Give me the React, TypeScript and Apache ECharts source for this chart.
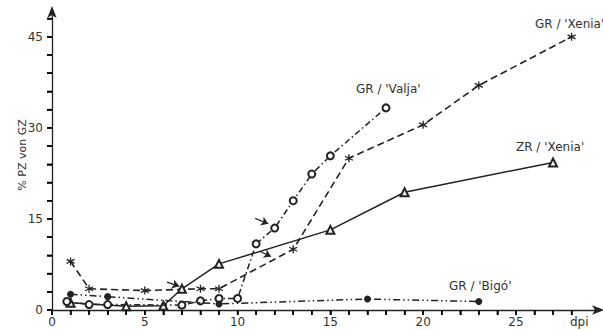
import React, { useEffect, useRef } from "react";
import * as echarts from "echarts";

// GR/'Xenia' (dashed, asterisks)
const grXenia: [number, number][] = [
  [1, 8], [2, 3.5], [5, 3.2], [8, 3.5], [9, 3.5], [13, 10], [16, 25], [20, 30.5], [23, 37], [28, 45],
];
// ZR/'Xenia' (solid, open triangles)
const zrXenia: [number, number][] = [
  [1, 1.2], [4, 0.6], [6, 0.7], [7, 3.5], [9, 7.6], [15, 13.2], [19, 19.4], [27, 24.3],
];
// GR/'Valja' (dash-dot, open circles)
const grValja: [number, number][] = [
  [0.8, 1.4], [2, 0.9], [3, 0.9], [7, 0.8], [8, 1.5], [9, 1.9], [10, 1.9], [11, 10.9], [12, 13.5],
  [13, 18], [14, 22.4], [15, 25.4], [18, 33.3],
];
// GR/'Bigó' (dash-dot-dot, filled circles)
const grBigo: [number, number][] = [
  [1, 2.6], [3, 2.2], [9, 1.0], [17, 1.8], [23, 1.4],
];

// tick positions and labels
const xTicks = [0, 1, 2, 3, 4, 5, 6, 7, 8, 9, 10, 11, 12, 13, 14, 15, 16, 17, 18, 19, 20, 21, 22, 23, 24, 25, 26, 27, 28];
const xLabels = [0, 5, 10, 15, 20, 25];
const yTicks = [0, 3, 6, 9, 12, 15, 18, 21, 24, 27, 30, 33, 36, 39, 42, 45, 48];
const yLabels = [0, 15, 30, 45];

// annotation arrows: [tailX, tailY, headX, headY] in data units
const arrows: [number, number, number, number][] = [
  [6.2, 4.6, 6.85, 3.9],
  [10.95, 15.1, 11.65, 14.2],
  [11.25, 9.6, 11.8, 8.8],
];

const INK = "#222";
const TXT = "#333";
const FONT = "DejaVu Sans";

export default function App() {
  const ref = useRef<HTMLDivElement>(null);
  useEffect(() => {
    if (!ref.current) return;
    const chart = echarts.init(ref.current, undefined, { renderer: "svg" });
    const asterisk = "path://M5,0L5,10M0.7,2.5L9.3,7.5M0.7,7.5L9.3,2.5";
    const arrowLine = () => ({
      show: true,
      lineStyle: { color: INK, width: 1.3 },
      symbol: ["none", "arrow"],
      symbolSize: [7, 12],
      symbolOffset: [0, 4],
    });
    const hidden = () => ({ show: false });
    chart.setOption({
      animation: false,
      grid: [
        { left: 52, right: 31.4, top: 18.6, bottom: 20 },
        { left: 52, right: 3, top: 10, bottom: 20 },
      ],
      xAxis: [
        {
          type: "value",
          gridIndex: 0,
          min: 0,
          max: 28,
          interval: 1,
          splitLine: hidden(),
          axisLine: hidden(),
          axisTick: { show: true, inside: false, length: 5, lineStyle: { color: "#000", width: 1.5 } },
          axisLabel: {
            margin: 6,
            color: TXT,
            fontSize: 12,
            fontFamily: FONT,
            formatter: (v: number) => (xLabels.indexOf(v) >= 0 ? String(v) : ""),
          },
        },
        {
          type: "value",
          gridIndex: 1,
          min: 0,
          max: 1,
          splitLine: hidden(),
          axisLine: arrowLine(),
          axisTick: hidden(),
          axisLabel: hidden(),
        },
      ],
      yAxis: [
        {
          type: "value",
          gridIndex: 0,
          min: 0,
          max: 48,
          interval: 3,
          splitLine: hidden(),
          axisLine: hidden(),
          axisTick: { show: true, inside: false, length: 5, lineStyle: { color: "#000", width: 1.5 } },
          axisLabel: {
            margin: 9,
            color: TXT,
            fontSize: 12,
            fontFamily: FONT,
            formatter: (v: number) => (yLabels.indexOf(v) >= 0 ? String(v) : ""),
          },
        },
        {
          type: "value",
          gridIndex: 1,
          min: 0,
          max: 1,
          splitLine: hidden(),
          axisLine: arrowLine(),
          axisTick: hidden(),
          axisLabel: hidden(),
        },
      ],
      series: [
        {
          type: "custom",
          name: "xTicks",
          silent: true,
          clip: false,
          data: xTicks.map((v) => [v, 0]),
          renderItem: (_p: any, api: any) => {
            const pt = api.coord([api.value(0), 0]);
            return { type: "line", shape: { x1: pt[0], y1: pt[1], x2: pt[0], y2: pt[1] + 5 }, style: { stroke: "#000", lineWidth: 1.5 } };
          },
          z: 10,
        },
        {
          type: "custom",
          name: "yTicks",
          silent: true,
          clip: false,
          data: yTicks.map((v) => [0, v]),
          renderItem: (_p: any, api: any) => {
            const pt = api.coord([0, api.value(1)]);
            return { type: "line", shape: { x1: pt[0] - 5, y1: pt[1], x2: pt[0], y2: pt[1] }, style: { stroke: "#000", lineWidth: 1.5 } };
          },
          z: 10,
        },
        {
          type: "line",
          name: "GR/'Xenia'",
          data: grXenia,
          symbol: asterisk,
          symbolSize: 8,
          lineStyle: { color: INK, width: 1.6, type: [7, 4] },
          itemStyle: { color: INK, borderColor: INK, borderWidth: 1.3 },
          z: 3,
        },
        {
          type: "line",
          name: "ZR/'Xenia'",
          data: zrXenia,
          symbol: "emptyTriangle",
          symbolSize: 8,
          lineStyle: { color: INK, width: 1.5, type: "solid" },
          itemStyle: { color: INK, borderColor: INK, borderWidth: 1 },
          z: 4,
          markLine: {
            silent: true,
            symbol: ["none", "arrow"],
            symbolSize: 7,
            label: { show: false },
            lineStyle: { color: INK, width: 1.2, type: "solid" },
            data: arrows.map(([x1, y1, x2, y2]) => [{ coord: [x1, y1] }, { coord: [x2, y2] }]),
          },
        },
        {
          type: "line",
          name: "GR/'Valja'",
          data: grValja,
          symbol: "emptyCircle",
          symbolSize: 7,
          lineStyle: { color: INK, width: 1.5, type: [6, 3, 1.5, 3] },
          itemStyle: { color: INK, borderColor: INK, borderWidth: 1 },
          z: 5,
        },
        {
          type: "line",
          name: "GR/'Bigó'",
          data: grBigo,
          symbol: "circle",
          symbolSize: 7,
          lineStyle: { color: INK, width: 1.5, type: [7, 3, 1.5, 3, 1.5, 3] },
          itemStyle: { color: INK },
          z: 6,
        },
      ],
      graphic: [
        { type: "text", left: 535, top: 18, style: { text: "GR / 'Xenia'", fill: TXT, fontSize: 12, fontFamily: FONT } },
        { type: "text", left: 356, top: 83, style: { text: "GR / 'Valja'", fill: TXT, fontSize: 12, fontFamily: FONT } },
        { type: "text", left: 516, top: 141, style: { text: "ZR / 'Xenia'", fill: TXT, fontSize: 12, fontFamily: FONT } },
        { type: "text", left: 449, top: 280, style: { text: "GR / 'Bigó'", fill: TXT, fontSize: 12, fontFamily: FONT } },
        { type: "text", left: 570, top: 316, style: { text: "dpi", fill: TXT, fontSize: 12, fontFamily: FONT } },
        {
          type: "text",
          x: 22,
          y: 155,
          rotation: Math.PI / 2,
          style: { text: "% PZ von GZ", fill: TXT, fontSize: 11, fontFamily: FONT, align: "center", verticalAlign: "middle" },
        },
      ],
    });
    return () => chart.dispose();
  }, []);
  return <div ref={ref} style={{ width: 603, height: 330, position: "absolute", left: 0, top: 0, background: "#fff" }} />;
}
